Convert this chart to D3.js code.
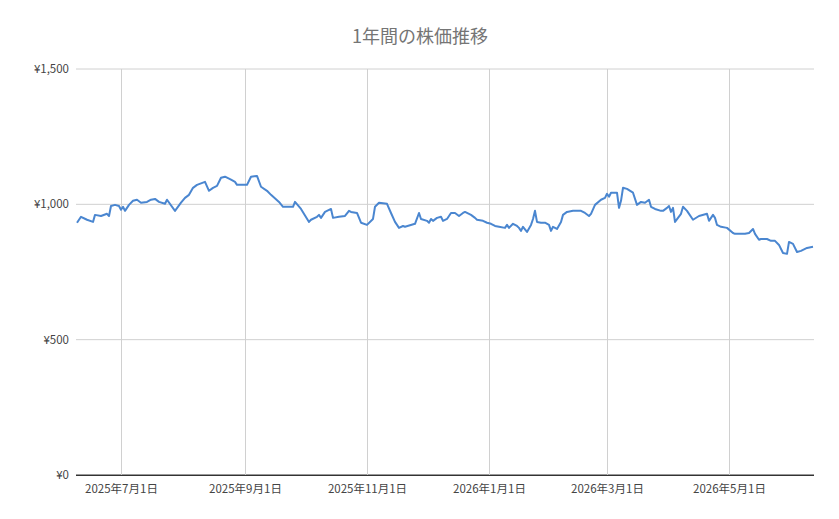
<!DOCTYPE html>
<html><head><meta charset="utf-8">
<script src="https://cdn.jsdelivr.net/npm/d3@7"></script>
<style>body{margin:0;background:#fff}svg{font-family:"Noto Sans CJK JP","Noto Sans",sans-serif}</style>
</head><body><svg id="c" width="839" height="519"></svg>
<script>
const dates = ["2025-06-09","2025-06-11","2025-06-14","2025-06-17","2025-06-18","2025-06-21","2025-06-24","2025-06-25","2025-06-26","2025-06-28","2025-06-30",
"2025-07-01","2025-07-02","2025-07-03","2025-07-05","2025-07-07","2025-07-09","2025-07-11","2025-07-14","2025-07-16","2025-07-18","2025-07-20","2025-07-23","2025-07-24","2025-07-28","2025-07-31",
"2025-08-02","2025-08-04","2025-08-06","2025-08-08","2025-08-12","2025-08-14","2025-08-16","2025-08-18","2025-08-20","2025-08-22","2025-08-25","2025-08-27","2025-08-28",
"2025-09-02","2025-09-04","2025-09-07","2025-09-09","2025-09-12","2025-09-14","2025-09-18","2025-09-20","2025-09-25","2025-09-26","2025-09-29",
"2025-10-03","2025-10-04","2025-10-07","2025-10-08","2025-10-09","2025-10-11","2025-10-14","2025-10-15","2025-10-18","2025-10-21","2025-10-23","2025-10-24","2025-10-27","2025-10-29",
"2025-11-01","2025-11-04","2025-11-05","2025-11-07","2025-11-11","2025-11-13","2025-11-15","2025-11-17","2025-11-19","2025-11-20","2025-11-25","2025-11-27","2025-11-28",
"2025-12-01","2025-12-02","2025-12-03","2025-12-04","2025-12-06","2025-12-08","2025-12-09","2025-12-11","2025-12-13","2025-12-15","2025-12-17","2025-12-19","2025-12-20","2025-12-23","2025-12-25","2025-12-26","2025-12-29","2025-12-31",
"2026-01-02","2026-01-04","2026-01-06","2026-01-09","2026-01-10","2026-01-11","2026-01-13","2026-01-15","2026-01-16","2026-01-17","2026-01-18","2026-01-20","2026-01-22","2026-01-23","2026-01-24","2026-01-25","2026-01-27","2026-01-29","2026-01-31",
"2026-02-01","2026-02-02","2026-02-04","2026-02-06","2026-02-07","2026-02-09","2026-02-12","2026-02-16","2026-02-18","2026-02-20","2026-02-21","2026-02-23","2026-02-26","2026-02-28",
"2026-03-01","2026-03-02","2026-03-03","2026-03-06","2026-03-07","2026-03-08","2026-03-09","2026-03-11","2026-03-14","2026-03-16","2026-03-18","2026-03-20","2026-03-22","2026-03-23","2026-03-25","2026-03-28","2026-03-29","2026-03-31",
"2026-04-01","2026-04-02","2026-04-03","2026-04-04","2026-04-07","2026-04-08","2026-04-10","2026-04-13","2026-04-16","2026-04-20","2026-04-21","2026-04-23","2026-04-24","2026-04-25","2026-04-27","2026-04-30",
"2026-05-03","2026-05-04","2026-05-09","2026-05-11","2026-05-13","2026-05-14","2026-05-16","2026-05-17","2026-05-20","2026-05-22","2026-05-24","2026-05-26","2026-05-28","2026-05-30","2026-05-31",
"2026-06-02","2026-06-04","2026-06-06","2026-06-09","2026-06-12"];
const prices = [932,954,943,935,961,957,965,957,994,998,994,
980,991,976,998,1013,1017,1006,1009,1017,1020,1009,1002,1017,976,1006,
1024,1035,1061,1072,1083,1050,1061,1068,1098,1102,1091,1083,1072,
1072,1102,1105,1065,1050,1035,1009,991,991,1009,983,
935,943,954,961,950,972,983,950,954,957,976,972,968,932,
924,946,991,1006,1002,968,935,913,920,917,928,968,946,
939,932,946,939,950,954,939,946,968,968,957,968,972,961,950,943,939,932,
928,920,917,913,924,913,928,920,913,902,917,898,924,946,976,935,932,932,924,
902,917,909,935,961,972,976,976,968,957,965,998,1017,1024,
1039,1028,1043,1043,987,1013,1061,1057,1043,998,1009,1006,1017,991,983,976,976,987,
994,972,987,935,965,991,976,943,957,965,939,961,950,924,917,913,
894,891,891,894,909,891,869,872,872,865,865,850,820,817,861,
854,824,828,839,843];
const yTicks = [0,500,1000,1500];
const xTickDates = ["2025-07-01","2025-09-01","2025-11-01","2026-01-01","2026-03-01","2026-05-01"];
const title = "1年間の株価推移";

const parse = d3.timeParse("%Y-%m-%d");
const data = dates.map((d,i)=>({d:parse(d),v:prices[i]}));
const svg = d3.select("#c");
const L=76,R=814,T=69,B=475;
const x = d3.scaleTime().domain([new Date(2025,5,8,12),new Date(2026,5,12,12)]).range([L,R]);
const y = d3.scaleLinear().domain([0,1500]).range([B,T]);

svg.append("text").attr("x",420).attr("y",43).attr("text-anchor","middle").attr("font-size",18).attr("fill","#757575").text(title);

const gy = svg.append("g");
yTicks.forEach(t=>{
  gy.append("line").attr("x1",L).attr("x2",R).attr("y1",y(t)).attr("y2",y(t)).attr("stroke",t===0?"#333":"#d0d0d0").attr("stroke-width",1);
  gy.append("text").attr("x",L-7).attr("y",y(t)+4).attr("text-anchor","end").attr("font-size",11.5).attr("fill","#444").text("¥"+d3.format(",")(t));
});
xTickDates.forEach(s=>{
  const xv = Math.round(x(parse(s)))+0.5;
  svg.append("line").attr("x1",xv).attr("x2",xv).attr("y1",T).attr("y2",B).attr("stroke","#d0d0d0");
  const dt=parse(s);
  svg.append("text").attr("x",xv).attr("y",493).attr("text-anchor","middle").attr("font-size",11.5).attr("fill","#444")
    .text(dt.getFullYear()+"年"+(dt.getMonth()+1)+"月"+dt.getDate()+"日");
});
svg.append("line").attr("x1",L).attr("x2",R).attr("y1",B+0.5).attr("y2",B+0.5).attr("stroke","#333");

svg.append("path").datum(data).attr("fill","none").attr("stroke","#4a86d0").attr("stroke-width",2).attr("stroke-linejoin","round")
  .attr("d",d3.line().x(d=>x(d.d)).y(d=>y(d.v)));
</script></body></html>
